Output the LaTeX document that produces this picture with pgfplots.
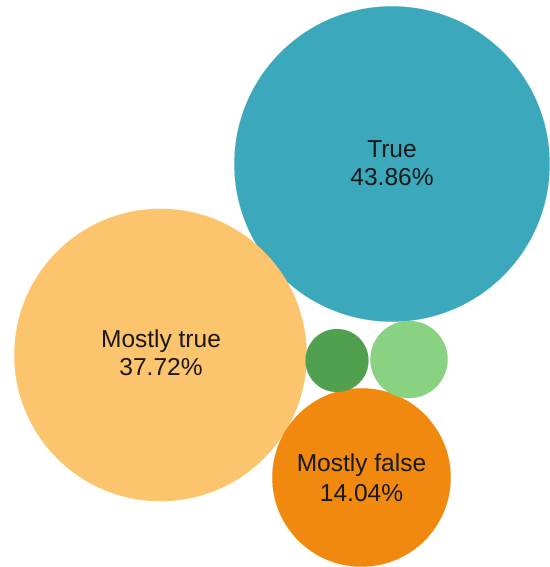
\documentclass[border=0pt]{standalone}
\usepackage{pgfplots}
\pgfplotsset{compat=1.18}
\usepackage{fontspec}
\setmainfont{Liberation Sans}
\definecolor{ctrue}{RGB}{59,168,187}
\definecolor{cmtrue}{RGB}{252,196,108}
\definecolor{cmfalse}{RGB}{240,137,14}
\definecolor{cdark}{RGB}{80,160,80}
\definecolor{clight}{RGB}{137,210,130}
\pgfplotsset{bub/.style={scatter, only marks, mark=*,
  mark options={draw=#1, fill=#1, line width=0.1pt},
  scatter/use mapped color={draw=#1, fill=#1, line width=0.1pt},
  visualization depends on={23.8*sqrt(\thisrow{p}) \as \rad},
  scatter/@pre marker code/.append style={/tikz/mark size=\rad}}}
\begin{document}
\begin{tikzpicture}
\begin{axis}[name=ax, hide axis, x=1pt, y=1pt, xmin=0, xmax=549, ymin=0, ymax=567,
  y dir=reverse, clip=false, scale only axis, set layers]
\addplot[bub=ctrue] table[row sep=\\] {x y p\\ 392 164 43.86\\};
\addplot[bub=cmtrue] table[row sep=\\] {x y p\\ 160.5 355 37.72\\};
\addplot[bub=cmfalse] table[row sep=\\] {x y p\\ 361.5 477.5 14.04\\};
\addplot[bub=cdark] table[row sep=\\] {x y p\\ 337 360.5 1.75\\};
\addplot[bub=clight] table[row sep=\\] {x y p\\ 409 359.5 2.63\\};
\begin{pgfonlayer}{axis foreground}
\node[align=center, font=\fontsize{24.5}{28}\selectfont, text=black!90] at (axis cs:392,163) {True\\43.86\%};
\node[align=center, font=\fontsize{24.5}{28}\selectfont, text=black!90] at (axis cs:161,353) {Mostly true\\37.72\%};
\node[align=center, font=\fontsize{24.5}{30}\selectfont, text=black!90] at (axis cs:361.5,478) {Mostly false\\14.04\%};
\end{pgfonlayer}
\end{axis}
\pgfresetboundingbox
\path (ax.south west) rectangle (ax.north east);
\end{tikzpicture}
\end{document}
